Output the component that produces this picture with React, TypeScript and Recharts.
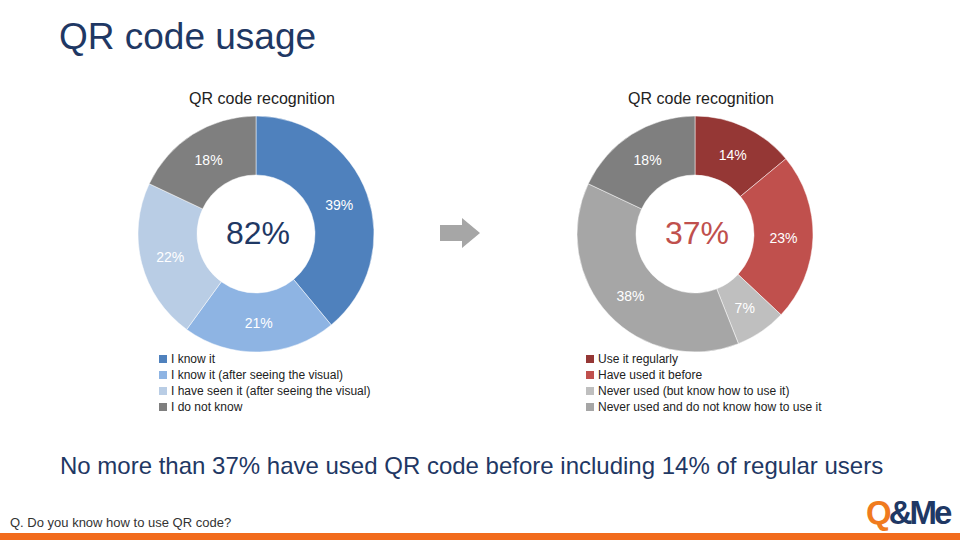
import React from 'react';
import { PieChart, Pie, Cell } from 'recharts';

// left donut: recognition
const knowLabels = [
  'I know it',
  'I know it (after seeing the visual)',
  'I have seen it (after seeing the visual)',
  'I do not know',
];
const knowValues = [39, 21, 22, 18];
const knowColors = ['#4F81BD', '#8EB4E3', '#B9CDE5', '#7F7F7F'];

// right donut: usage
const useLabels = [
  'Use it regularly',
  'Have used it before',
  'Never used (but know how to use it)',
  'Never used and do not know how to use it',
];
// the last gray slice (18%) is the "do not know" group carried over, not in legend
const useValues = [14, 23, 7, 38, 18];
const useColors = ['#953735', '#C0504D', '#BFBFBF', '#A6A6A6', '#7F7F7F'];

const FONT = '"Liberation Sans", Arial, sans-serif';
const RAD = Math.PI / 180;

const renderLabel = (props: any) => {
  const { cx, cy, midAngle, innerRadius, outerRadius, value } = props;
  const r = (innerRadius + outerRadius) / 2;
  const x = cx + r * Math.cos(-midAngle * RAD);
  const y = cy + 1 + r * Math.sin(-midAngle * RAD);
  return (
    <text x={x} y={y} fill="#ffffff" fontSize={14} fontFamily={FONT} textAnchor="middle" dominantBaseline="central">
      {value}%
    </text>
  );
};

const Legend = ({ labels, colors, left }: { labels: string[]; colors: string[]; left: number }) => (
  <div style={{ position: 'absolute', left, top: 351, fontFamily: FONT, fontSize: 12, color: '#222' }}>
    {labels.map((l, i) => (
      <div key={l} style={{ height: 16, display: 'flex', alignItems: 'center' }}>
        <span style={{ width: 8, height: 8, background: colors[i], marginRight: 4, display: 'inline-block' }} />
        {l}
      </div>
    ))}
  </div>
);

export default function App() {
  const leftData = knowValues.map((v, i) => ({ name: knowLabels[i], value: v }));
  const rightData = useValues.map((v, i) => ({ name: useLabels[i] ?? 'Do not know', value: v }));
  const recognised = knowValues[0] + knowValues[1] + knowValues[2];
  const used = useValues[0] + useValues[1];

  return (
    <div style={{ position: 'absolute', left: 0, top: 0, width: 960, height: 540, background: '#fff', overflow: 'hidden', fontFamily: FONT }}>
      <div style={{ position: 'absolute', left: 59, top: 16, fontSize: 37, color: '#1F3864' }}>QR code usage</div>

      <div style={{ position: 'absolute', left: 162, width: 200, top: 90, fontSize: 16, color: '#222', textAlign: 'center' }}>QR code recognition</div>
      <div style={{ position: 'absolute', left: 601, width: 200, top: 90, fontSize: 16, color: '#222', textAlign: 'center' }}>QR code recognition</div>

      <div style={{ position: 'absolute', left: 0, top: 0 }}>
        <PieChart width={960} height={540} margin={{ top: 0, right: 0, bottom: 0, left: 0 }}>
          <Pie
            data={leftData}
            dataKey="value"
            cx={256}
            cy={234}
            innerRadius={59}
            outerRadius={118}
            startAngle={90}
            endAngle={-270}
            stroke="#ffffff"
            strokeWidth={0.5}
            label={renderLabel}
            labelLine={false}
            isAnimationActive={false}
          >
            {leftData.map((d, i) => (
              <Cell key={d.name} fill={knowColors[i]} />
            ))}
          </Pie>
          <Pie
            data={rightData}
            dataKey="value"
            cx={695}
            cy={234}
            innerRadius={59}
            outerRadius={118}
            startAngle={90}
            endAngle={-270}
            stroke="#ffffff"
            strokeWidth={0.5}
            label={renderLabel}
            labelLine={false}
            isAnimationActive={false}
          >
            {rightData.map((d, i) => (
              <Cell key={d.name + i} fill={useColors[i]} />
            ))}
          </Pie>
          <text x={258} y={233} textAnchor="middle" dominantBaseline="central" fontSize={32} fontFamily={FONT} fill="#1F3864">
            {recognised}%
          </text>
          <text x={697} y={233} textAnchor="middle" dominantBaseline="central" fontSize={32} fontFamily={FONT} fill="#C0504D">
            {used}%
          </text>
          <polygon points="440,225 462,225 462,218 480,233 462,248 462,241 440,241" fill="#A6A6A6" />
        </PieChart>
      </div>

      <Legend labels={knowLabels} colors={knowColors} left={159} />
      <Legend labels={useLabels} colors={useColors} left={586} />

      <div style={{ position: 'absolute', left: 60, top: 452, fontSize: 24, color: '#1F3864' }}>
        No more than {used}% have used QR code before including {useValues[0]}% of regular users
      </div>

      <div style={{ position: 'absolute', left: 10, top: 515, fontSize: 13, color: '#333' }}>Q. Do you know how to use QR code?</div>

      <div style={{ position: 'absolute', left: 866, top: 494, fontSize: 33, fontWeight: 'bold', letterSpacing: -3, lineHeight: '38px' }}>
        <span style={{ color: '#F07B1E' }}>Q</span>
        <span style={{ color: '#1F3864' }}>&amp;Me</span>
      </div>

      <div style={{ position: 'absolute', left: 0, top: 533, width: 960, height: 7, background: '#F26B1D' }} />
    </div>
  );
}
